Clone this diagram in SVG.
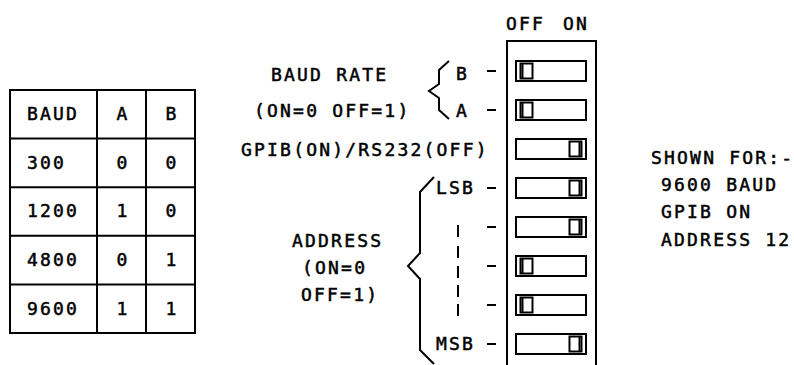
<svg xmlns="http://www.w3.org/2000/svg" xmlns:xlink="http://www.w3.org/1999/xlink" width="794" height="365" viewBox="0 0 794 365">
<style>
text{font-family:"DejaVu Sans Mono","Liberation Mono",monospace;font-size:18px;letter-spacing:2.2px;fill:#000;stroke:#000;stroke-width:0.5px}
.ln{fill:none;stroke:#000;stroke-width:2}
.c{text-anchor:middle}
</style>
<defs>
<g id="swOff">
<rect class="ln" x="0" y="-10" width="70" height="20"/>
<rect class="ln" x="4.5" y="-7.5" width="12" height="15"/>
<line class="ln" x1="6.5" y1="-7.5" x2="6.5" y2="7.5"/>
</g>
<g id="swOn">
<rect class="ln" x="0" y="-10" width="70" height="20"/>
<rect class="ln" x="53.5" y="-7.5" width="12" height="15"/>
<line class="ln" x1="63.5" y1="-7.5" x2="63.5" y2="7.5"/>
</g>
</defs>
<rect width="794" height="365" fill="#fff"/>

<g id="table">
<rect class="ln" x="10" y="90" width="185" height="243"/>
<path class="ln" d="M97,90V333M146,90V333M10,138.6H195M10,187.2H195M10,235.8H195M10,284.4H195"/>
<text x="27" y="120">BAUD</text>
<text class="c" x="123" y="120">A</text>
<text class="c" x="172" y="120">B</text>
<text x="27" y="169">300</text>
<text class="c" x="123" y="169">0</text>
<text class="c" x="172" y="169">0</text>
<text x="27" y="217">1200</text>
<text class="c" x="123" y="217">1</text>
<text class="c" x="172" y="217">0</text>
<text x="27" y="266">4800</text>
<text class="c" x="123" y="266">0</text>
<text class="c" x="172" y="266">1</text>
<text x="27" y="315">9600</text>
<text class="c" x="123" y="315">1</text>
<text class="c" x="172" y="315">1</text>
</g>

<g id="baud-label">
<text x="271" y="81">BAUD RATE</text>
<text x="254" y="117">(ON=0 OFF=1)</text>
</g>
<g id="gpib-label">
<text x="241" y="156">GPIB(ON)/RS232(OFF)</text>
</g>
<g id="address-label">
<text x="292" y="247">ADDRESS</text>
<text x="302" y="274">(ON=0</text>
<text x="301" y="301">OFF=1)</text>
</g>
<g id="pin-labels">
<text x="456" y="80">B</text>
<text x="456" y="117">A</text>
<text x="436" y="194">LSB</text>
<text x="436" y="350">MSB</text>
</g>

<g id="header">
<text x="506" y="30">OFF</text>
<text x="563" y="30">ON</text>
</g>

<g id="switch-block">
<path class="ln" d="M507,366V41H596V366"/>
<g id="sw1"><use xlink:href="#swOff" transform="translate(516,71)"/></g>
<g id="sw2"><use xlink:href="#swOff" transform="translate(516,110)"/></g>
<g id="sw3"><use xlink:href="#swOn" transform="translate(516,149)"/></g>
<g id="sw4"><use xlink:href="#swOn" transform="translate(516,188)"/></g>
<g id="sw5"><use xlink:href="#swOn" transform="translate(516,227)"/></g>
<g id="sw6"><use xlink:href="#swOff" transform="translate(516,266)"/></g>
<g id="sw7"><use xlink:href="#swOff" transform="translate(516,305)"/></g>
<g id="sw8"><use xlink:href="#swOn" transform="translate(516,344)"/></g>
</g>

<g id="connectors">
<path class="ln" d="M487,71H496M487,110H496M487,188H496M487,227H496M487,266H496M487,305H496M487,344H496"/>
<path class="ln" d="M449,61L439,70V84L429,91L439,98V110L449,119"/>
<path class="ln" d="M434,177L420,192V253L408,266L420,279V350L434,364"/>
<path class="ln" d="M458,225V237M458,246V258M458,266V278M458,285V297M458,304V316"/>
</g>

<g id="shown-for">
<text x="651" y="164">SHOWN FOR:-</text>
<text x="661" y="191">9600 BAUD</text>
<text x="661" y="218">GPIB ON</text>
<text x="661" y="246">ADDRESS 12</text>
</g>
</svg>
